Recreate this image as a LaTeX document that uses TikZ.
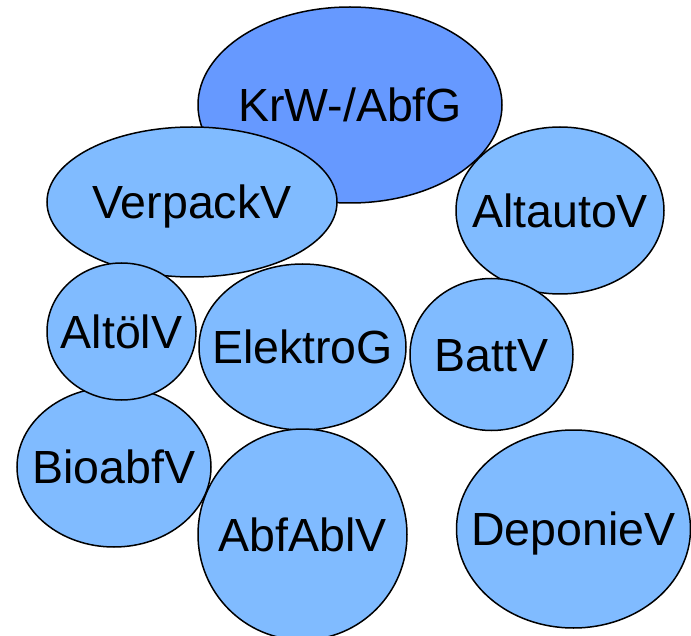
\documentclass[tikz,border=0pt]{standalone}
\usepackage{fontspec}
\setmainfont{Liberation Sans}
\usetikzlibrary{shapes.geometric}
\definecolor{hubblue}{HTML}{6699FF}
\definecolor{regblue}{HTML}{80BBFF}
\tikzset{
  regl/.style n args={2}{ellipse, draw=black, line width=1.5pt, fill=regblue,
    inner sep=0pt, outer sep=0pt, minimum width=#1pt, minimum height=#2pt,
    font=\fontsize{46.5}{50}\selectfont, text height=33.3pt, text depth=0pt},
  hub/.style={fill=hubblue}
}
\newcommand{\lbl}[1]{\makebox[0pt][c]{#1}}
\begin{document}
\begin{tikzpicture}[x=1pt,y=-1pt]
  \useasboundingbox (0,0) rectangle (691,636);
  \fill[white] (0,0) rectangle (691,636);
  % central act and the ordinances around it
  \node[regl={304}{196}, hub] (krw) at (350,105) {\lbl{KrW-/AbfG}};
  \node[regl={290}{150}] (verpack) at (192,202) {\lbl{VerpackV}};
  \node[regl={208}{167}] (altauto) at (560,210.5) {\lbl{AltautoV}};
  \node[regl={163}{152}] (batt) at (491.5,354.5) {\lbl{BattV}};
  \node[regl={207}{166}] (elektro) at (302.5,347) {\lbl{ElektroG}};
  \node[regl={194}{160}] (bioabf) at (114,467) {\lbl{BioabfV}};
  \node[regl={149}{137}] (altoel) at (121.5,331.5) {\lbl{AltölV}};
  \node[regl={209}{211}] (abfabl) at (302.5,534.5) {\lbl{AbfAblV}};
  \node[regl={234}{198}] (deponie) at (573.5,529) {\lbl{DeponieV}};
\end{tikzpicture}
\end{document}
